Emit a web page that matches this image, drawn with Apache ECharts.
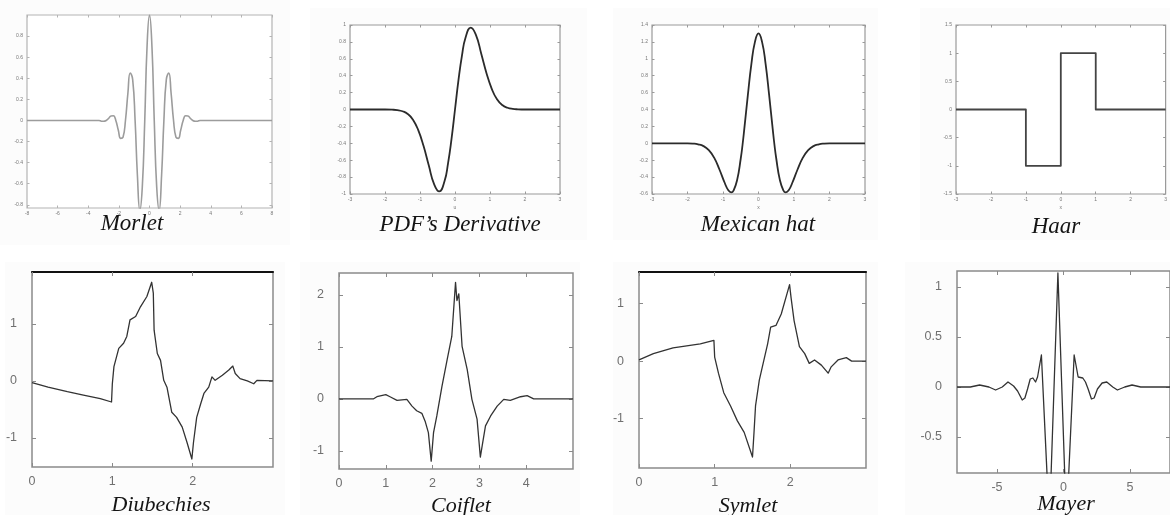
<!DOCTYPE html>
<html>
<head>
<meta charset="utf-8">
<script src="https://cdn.jsdelivr.net/npm/echarts@6/dist/echarts.min.js"></script>
<style>
  html, body { margin: 0; padding: 0; background: #ffffff; }
  #chart { width: 1170px; height: 515px; }
</style>
</head>
<body>
<div id="chart"></div>
<script>
// ---- Wavelet samples (x, psi(x)) ----
const morletX = [-8, -3.3, -3.14, -2.99, -2.83, -2.67, -2.51, -2.36, -2.2, -2.04, -1.88, -1.73, -1.57, -1.41, -1.26, -1.1, -0.94, -0.79, -0.63, -0.47, -0.31, -0.16, 0,
                 0.16, 0.31, 0.47, 0.63, 0.79, 0.94, 1.1, 1.26, 1.41, 1.57, 1.73, 1.88, 2.04, 2.2, 2.36, 2.51, 2.67, 2.83, 2.99, 3.14, 3.3, 8];
const morletY = [0, 0, -0.007, -0.008, 0, 0.02, 0.043, 0.044, 0, -0.09, -0.17, -0.16, 0, 0.26, 0.45, 0.39, 0, -0.52, -0.85, -0.63, 0, 0.70, 1.0,
                 0.70, 0, -0.63, -0.85, -0.52, 0, 0.39, 0.45, 0.26, 0, -0.16, -0.17, -0.09, 0, 0.044, 0.043, 0.02, 0, -0.008, -0.007, 0, 0];

const pdfX = [-3, -2, -1.8, -1.65, -1.5, -1.35, -1.2, -1.05, -0.9, -0.75, -0.6, -0.45, -0.3, -0.2, -0.1, 0,
              0.1, 0.2, 0.3, 0.45, 0.6, 0.75, 0.9, 1.05, 1.2, 1.35, 1.5, 1.65, 1.8, 2, 3];
const pdfY = [0, 0, -0.002, -0.007, -0.021, -0.053, -0.12, -0.245, -0.43, -0.66, -0.88, -0.97, -0.85, -0.64, -0.35, 0,
              0.35, 0.64, 0.85, 0.97, 0.88, 0.66, 0.43, 0.245, 0.12, 0.053, 0.021, 0.007, 0.002, 0, 0];

const hatX = [-3, -2, -1.85, -1.7, -1.55, -1.4, -1.25, -1.1, -0.95, -0.85, -0.77, -0.7, -0.6, -0.5, -0.45, -0.4, -0.3, -0.2, -0.1, 0,
              0.1, 0.2, 0.3, 0.4, 0.45, 0.5, 0.6, 0.7, 0.77, 0.85, 0.95, 1.1, 1.25, 1.4, 1.55, 1.7, 1.85, 2, 3];
const hatY = [0, 0, -0.003, -0.012, -0.033, -0.082, -0.17, -0.31, -0.47, -0.556, -0.58, -0.556, -0.43, -0.18, -0.02, 0.17, 0.57, 0.94, 1.2, 1.3,
              1.2, 0.94, 0.57, 0.17, -0.02, -0.18, -0.43, -0.556, -0.58, -0.556, -0.47, -0.31, -0.17, -0.082, -0.033, -0.012, -0.003, 0, 0];

const haarX = [-3, -1, -1, 0, 0, 1, 1, 3];
const haarY = [0, 0, -1, -1, 1, 1, 0, 0];

const dbX = [0, 0.2, 0.44, 0.64, 0.85, 0.99, 1.0, 1.02, 1.08, 1.14, 1.18, 1.22, 1.29, 1.35, 1.43, 1.49, 1.51, 1.52, 1.56, 1.6, 1.64, 1.68,
             1.74, 1.8, 1.87, 1.93, 1.99, 2.01, 2.05, 2.1, 2.14, 2.2, 2.24, 2.28, 2.37, 2.45, 2.5, 2.53, 2.59, 2.68, 2.76, 2.8, 3.0];
const dbY = [-0.03, -0.11, -0.19, -0.25, -0.31, -0.37, -0.05, 0.25, 0.57, 0.66, 0.78, 1.07, 1.13, 1.3, 1.48, 1.73, 1.54, 0.89, 0.48, 0.36, 0.01, -0.11,
             -0.55, -0.64, -0.81, -1.08, -1.37, -1.08, -0.64, -0.4, -0.22, -0.11, 0.07, 0.01, 0.1, 0.19, 0.26, 0.13, 0.04, 0, -0.05, 0.01, 0];

const coifX = [0, 0.74, 0.81, 1.0, 1.09, 1.24, 1.45, 1.56, 1.66, 1.77, 1.84, 1.91, 1.97, 2.02, 2.09, 2.2, 2.31, 2.41, 2.49, 2.52, 2.56, 2.63,
               2.74, 2.84, 2.95, 3.02, 3.06, 3.13, 3.24, 3.38, 3.52, 3.66, 3.88, 4.02, 4.16, 5];
const coifY = [0, 0, 0.04, 0.08, 0.04, -0.03, -0.01, -0.14, -0.23, -0.28, -0.43, -0.65, -1.2, -0.65, -0.33, 0.24, 0.75, 1.2, 2.24, 1.89, 2.02, 1.01,
               0.56, -0.01, -0.39, -1.12, -0.9, -0.52, -0.33, -0.14, -0.01, -0.03, 0.04, 0.06, 0, 0];

const symX = [0, 0.19, 0.45, 0.81, 0.99, 1.0, 1.05, 1.12, 1.21, 1.3, 1.39, 1.5, 1.52, 1.54, 1.59, 1.63, 1.7, 1.74, 1.81, 1.88, 1.99, 2.01,
              2.05, 2.12, 2.19, 2.25, 2.32, 2.41, 2.5, 2.54, 2.63, 2.74, 2.81, 3.0];
const symY = [0.02, 0.13, 0.23, 0.3, 0.36, 0.07, -0.21, -0.55, -0.78, -1.04, -1.24, -1.67, -1.24, -0.78, -0.33, -0.1, 0.3, 0.59, 0.62, 0.82, 1.33, 1.1,
              0.7, 0.25, 0.13, -0.04, 0.02, -0.07, -0.21, -0.1, 0.02, 0.06, 0, 0];

const meyerX = [-8, -7, -6.3, -5.6, -5.1, -4.6, -4.17, -3.75, -3.45, -3.1, -2.9, -2.7, -2.5, -2.3, -2.1, -1.95, -1.66, -1.06, -0.42, 0.22,
                0.8, 1.1, 1.25, 1.45, 1.65, 1.85, 2.1, 2.3, 2.55, 2.9, 3.25, 3.7, 4.05, 4.6, 5.15, 5.8, 8];
const meyerY = [0, 0, 0.02, 0, -0.03, 0, 0.05, 0.01, -0.04, -0.13, -0.11, -0.02, 0.08, 0.09, 0.05, 0.1, 0.32, -1.37, 1.14, -1.37,
                0.32, 0.1, 0.08, 0.09, 0.05, -0.02, -0.12, -0.11, -0.02, 0.04, 0.05, 0, -0.03, 0, 0.02, 0, 0];

// ---- Tick values ----
const morletXTicks = [-8, -6, -4, -2, 0, 2, 4, 6, 8];
const morletYTicks = [-0.8, -0.6, -0.4, -0.2, 0, 0.2, 0.4, 0.6, 0.8];
const unitXTicks = [-3, -2, -1, 0, 1, 2, 3];
const pdfYTicks = [-1, -0.8, -0.6, -0.4, -0.2, 0, 0.2, 0.4, 0.6, 0.8, 1];
const hatYTicks = [-0.6, -0.4, -0.2, 0, 0.2, 0.4, 0.6, 0.8, 1, 1.2, 1.4];
const haarYTicks = [-1.5, -1, -0.5, 0, 0.5, 1, 1.5];
const dbXTicks = [0, 1, 2];
const dbYTicks = [-1, 0, 1];
const coifXTicks = [0, 1, 2, 3, 4];
const coifYTicks = [-1, 0, 1, 2];
const symXTicks = [0, 1, 2];
const symYTicks = [-1, 0, 1];
const meyerXTicks = [-5, 0, 5];
const meyerYTicks = [-0.5, 0, 0.5, 1];

const names = ['Morlet', 'PDF\u2019s Derivative', 'Mexican hat', 'Haar', 'Diubechies', 'Coiflet', 'Symlet', 'Mayer'];

// ---- Panel layout & style ----
const panels = [
  { xs: morletX, ys: morletY, xt: morletXTicks, yt: morletYTicks, xr: [-8, 8], yr: [-0.83, 1],
    box: [27, 15, 245, 193], small: true, smooth: true, line: '#9c9c9c', lw: 1.6, frame: '#b4b4b4', title: [132, 224], xName: '' },
  { xs: pdfX, ys: pdfY, xt: unitXTicks, yt: pdfYTicks, xr: [-3, 3], yr: [-1, 1],
    box: [350, 25, 210, 169], small: true, smooth: true, line: '#2b2b2b', lw: 1.8, frame: '#9a9a9a', title: [460, 225], xName: 'u' },
  { xs: hatX, ys: hatY, xt: unitXTicks, yt: hatYTicks, xr: [-3, 3], yr: [-0.6, 1.4],
    box: [652, 25, 213, 169], small: true, smooth: true, line: '#2b2b2b', lw: 1.8, frame: '#9a9a9a', title: [758, 225], xName: 'x' },
  { xs: haarX, ys: haarY, xt: unitXTicks, yt: haarYTicks, xr: [-3, 3], yr: [-1.5, 1.5],
    box: [956, 25, 212, 169], small: true, smooth: false, line: '#444444', lw: 1.8, frame: '#9a9a9a', title: [1056, 227], xName: 'x' },
  { xs: dbX, ys: dbY, xt: dbXTicks, yt: dbYTicks, xr: [0, 3], yr: [-1.51, 1.91],
    box: [32, 272, 241, 195], small: false, smooth: false, line: '#333333', lw: 1.3, frame: '#8a8a8a', title: [161, 505], topBlack: true },
  { xs: coifX, ys: coifY, xt: coifXTicks, yt: coifYTicks, xr: [0, 5], yr: [-1.35, 2.42],
    box: [339, 273, 234, 196], small: false, smooth: false, line: '#333333', lw: 1.3, frame: '#8a8a8a', title: [461, 506] },
  { xs: symX, ys: symY, xt: symXTicks, yt: symYTicks, xr: [0, 3], yr: [-1.86, 1.55],
    box: [639, 272, 227, 196], small: false, smooth: false, line: '#333333', lw: 1.3, frame: '#8a8a8a', title: [748, 506], topBlack: true },
  { xs: meyerX, ys: meyerY, xt: meyerXTicks, yt: meyerYTicks, xr: [-8, 8], yr: [-0.86, 1.16],
    box: [957, 271, 222, 202], small: false, smooth: false, line: '#333333', lw: 1.3, frame: '#8a8a8a', title: [1066, 504] }
];

const grids = [], xAxes = [], yAxes = [], series = [], graphics = [];

// very faint backdrops behind each figure
const backdrops = [[0, 0, 290, 245], [310, 8, 277, 232], [613, 8, 265, 232], [920, 8, 250, 232],
                   [5, 262, 280, 253], [300, 262, 280, 253], [613, 262, 265, 253], [905, 262, 265, 253]];
backdrops.forEach(b => graphics.push({
  type: 'rect', shape: { x: b[0], y: b[1], width: b[2], height: b[3] },
  style: { fill: '#fcfcfc' }, z: -10, silent: true
}));

panels.forEach((p, i) => {
  const [left, top, width, height] = p.box;
  grids.push({ left, top, width, height, show: true, borderColor: p.frame,
               borderWidth: p.small ? 1.2 : 1.5, backgroundColor: '#ffffff', containLabel: false });

  const labelStyle = {
    fontFamily: '"Liberation Sans", Arial, sans-serif',
    fontSize: p.small ? 5 : 12.5,
    color: p.small ? '#777777' : '#707070'
  };
  const tickLen = p.small ? 2.5 : 4;
  const tickStyle = { color: p.frame, width: 1 };

  // bottom x axis with labels
  xAxes.push({
    type: 'value', gridIndex: i, position: 'bottom', min: p.xr[0], max: p.xr[1],
    axisLine: { show: false, onZero: false },
    axisTick: { show: true, inside: true, length: tickLen, lineStyle: tickStyle, customValues: p.xt },
    axisLabel: Object.assign({ show: true, customValues: p.xt, margin: p.small ? 3 : 8 }, labelStyle),
    splitLine: { show: false },
    name: p.xName || '', nameLocation: 'middle', nameGap: 11,
    nameTextStyle: { fontSize: 5, color: '#777777', fontFamily: '"Liberation Sans", Arial, sans-serif' }
  });
  // mirrored top x axis (ticks only)
  xAxes.push({
    type: 'value', gridIndex: i, position: 'top', min: p.xr[0], max: p.xr[1],
    axisLine: { show: !!p.topBlack, onZero: false, lineStyle: { color: '#111111', width: 2 } },
    axisTick: { show: true, inside: true, length: tickLen, lineStyle: tickStyle, customValues: p.xt },
    axisLabel: { show: false },
    splitLine: { show: false }
  });
  // left y axis with labels
  yAxes.push({
    type: 'value', gridIndex: i, position: 'left', min: p.yr[0], max: p.yr[1],
    axisLine: { show: false, onZero: false },
    axisTick: { show: true, inside: true, length: tickLen, lineStyle: tickStyle, customValues: p.yt },
    axisLabel: Object.assign({ show: true, customValues: p.yt, margin: p.small ? 4 : 15 }, labelStyle),
    splitLine: { show: false }
  });
  // mirrored right y axis (ticks only)
  yAxes.push({
    type: 'value', gridIndex: i, position: 'right', min: p.yr[0], max: p.yr[1],
    axisLine: { show: false, onZero: false },
    axisTick: { show: true, inside: true, length: tickLen, lineStyle: tickStyle, customValues: p.yt },
    axisLabel: { show: false },
    splitLine: { show: false }
  });

  series.push({
    type: 'line', name: names[i], xAxisIndex: 2 * i, yAxisIndex: 2 * i,
    data: p.xs.map((x, k) => [x, p.ys[k]]),
    smooth: p.smooth, showSymbol: false, symbol: 'none', clip: true,
    lineStyle: { color: p.line, width: p.lw, join: 'round' },
    z: 3
  });

  graphics.push({
    type: 'text', x: p.title[0], y: p.title[1], z: 20,
    style: {
      text: names[i],
      font: 'italic ' + (p.small ? 23 : 22) + 'px "Liberation Serif", "Times New Roman", serif',
      fill: '#141414', textAlign: 'center', textVerticalAlign: 'middle', verticalAlign: 'middle'
    }
  });
});

const chart = echarts.init(document.getElementById('chart'), null, { renderer: 'canvas' });
chart.setOption({
  animation: false,
  backgroundColor: '#ffffff',
  grid: grids,
  xAxis: xAxes,
  yAxis: yAxes,
  series: series,
  graphic: graphics
});
</script>
</body>
</html>
